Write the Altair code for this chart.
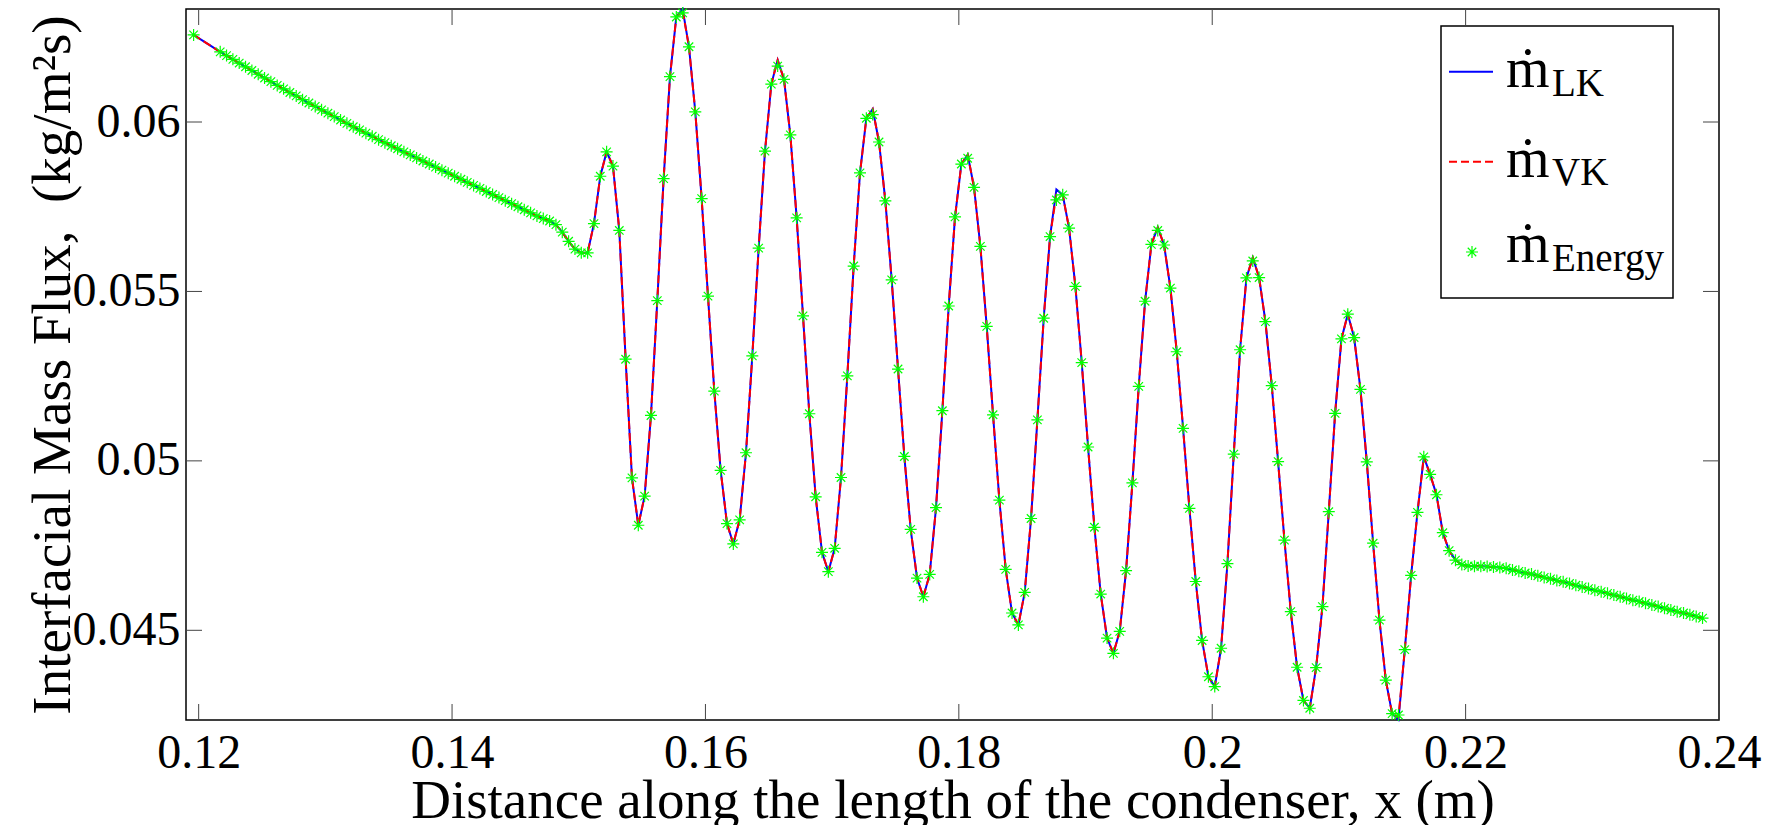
import altair as alt
import pandas as pd

FONT = "Liberation Serif"

# x positions along the condenser (m)
X_M = [0.1196,
    0.1217, 0.1222, 0.1227, 0.1232, 0.1237, 0.1242, 0.1247, 0.1252, 0.1257, 0.1262,
    0.1267, 0.1272, 0.1277, 0.1282, 0.1287, 0.1292, 0.1297, 0.1302, 0.1307, 0.1312,
    0.1317, 0.1322, 0.1327, 0.1332, 0.1337, 0.1342, 0.1347, 0.1352, 0.1357, 0.1362,
    0.1367, 0.1372, 0.1377, 0.1382, 0.1387, 0.1392, 0.1397, 0.1402, 0.1407, 0.1412,
    0.1417, 0.1422, 0.1427, 0.1432, 0.1437, 0.1442, 0.1447, 0.1452, 0.1457, 0.1462,
    0.1467, 0.1472, 0.1477, 0.1482, 0.1487, 0.1492, 0.1497, 0.1502, 0.1507, 0.1512,
    0.1517, 0.1522, 0.1527, 0.1532, 0.1537, 0.1542, 0.1547, 0.1552, 0.1557, 0.1562,
    0.1567, 0.1572, 0.1577, 0.1582, 0.1587, 0.1592, 0.1597, 0.1602, 0.1607, 0.1612,
    0.1617, 0.1622, 0.1627, 0.1632, 0.1637, 0.1642, 0.1647, 0.1652, 0.1657, 0.1662,
    0.1667, 0.1672, 0.1677, 0.1682, 0.1687, 0.1692, 0.1697, 0.1702, 0.1707, 0.1712,
    0.1717, 0.1722, 0.1727, 0.1732, 0.1737, 0.1742, 0.1747, 0.1752, 0.1757, 0.1762,
    0.1767, 0.1772, 0.1777, 0.1782, 0.1787, 0.1792, 0.1797, 0.1802, 0.1807, 0.1812,
    0.1817, 0.1822, 0.1827, 0.1832, 0.1837, 0.1842, 0.1847, 0.1852, 0.1857, 0.1862,
    0.1867, 0.1872, 0.1877, 0.1882, 0.1887, 0.1892, 0.1897, 0.1902, 0.1907, 0.1912,
    0.1917, 0.1922, 0.1927, 0.1932, 0.1937, 0.1942, 0.1947, 0.1952, 0.1957, 0.1962,
    0.1967, 0.1972, 0.1977, 0.1982, 0.1987, 0.1992, 0.1997, 0.2002, 0.2007, 0.2012,
    0.2017, 0.2022, 0.2027, 0.2032, 0.2037, 0.2042, 0.2047, 0.2052, 0.2057, 0.2062,
    0.2067, 0.2072, 0.2077, 0.2082, 0.2087, 0.2092, 0.2097, 0.2102, 0.2107, 0.2112,
    0.2117, 0.2122, 0.2127, 0.2132, 0.2137, 0.2142, 0.2147, 0.2152, 0.2157, 0.2162,
    0.2167, 0.2172, 0.2177, 0.2182, 0.2187, 0.2192, 0.2197, 0.2202, 0.2207, 0.2212,
    0.2217, 0.2222, 0.2227, 0.2232, 0.2237, 0.2242, 0.2247, 0.2252, 0.2257, 0.2262,
    0.2267, 0.2272, 0.2277, 0.2282, 0.2287, 0.2292, 0.2297, 0.2302, 0.2307, 0.2312,
    0.2317, 0.2322, 0.2327, 0.2332, 0.2337, 0.2342, 0.2347, 0.2352, 0.2357, 0.2362,
    0.2367, 0.2372, 0.2377, 0.2382, 0.2387]

# interfacial mass flux, LK method (kg/m^2 s)
M_LK = [0.06257,
    0.06207, 0.06196, 0.06185, 0.06174, 0.06163, 0.06152, 0.06141, 0.06130, 0.06119, 0.06108,
    0.06098, 0.06087, 0.06077, 0.06066, 0.06056, 0.06046, 0.06036, 0.06026, 0.06016, 0.06006,
    0.05996, 0.05986, 0.05977, 0.05967, 0.05958, 0.05948, 0.05939, 0.05930, 0.05921, 0.05912,
    0.05903, 0.05894, 0.05885, 0.05876, 0.05867, 0.05858, 0.05849, 0.05840, 0.05831, 0.05822,
    0.05813, 0.05804, 0.05795, 0.05786, 0.05777, 0.05768, 0.05759, 0.05750, 0.05741, 0.05732,
    0.05723, 0.05715, 0.05708, 0.05697, 0.05675, 0.05648, 0.05625, 0.05614, 0.05614, 0.05700,
    0.05840, 0.05912, 0.05870, 0.05680, 0.05300, 0.04950, 0.04810, 0.04896, 0.05134, 0.05473,
    0.05833, 0.06134, 0.06310, 0.06333, 0.06222, 0.06030, 0.05774, 0.05486, 0.05206, 0.04972,
    0.04815, 0.04755, 0.04826, 0.05024, 0.05310, 0.05628, 0.05914, 0.06112, 0.06183, 0.06126,
    0.05962, 0.05717, 0.05428, 0.05139, 0.04894, 0.04730, 0.04673, 0.04742, 0.04951, 0.05251,
    0.05575, 0.05850, 0.06011, 0.06038, 0.05941, 0.05767, 0.05534, 0.05271, 0.05013, 0.04798,
    0.04654, 0.04599, 0.04665, 0.04862, 0.05148, 0.05457, 0.05720, 0.05876, 0.05903, 0.05807,
    0.05633, 0.05397, 0.05136, 0.04884, 0.04680, 0.04551, 0.04516, 0.04612, 0.04830, 0.05121,
    0.05421, 0.05662, 0.05801, 0.05785, 0.05687, 0.05515, 0.05290, 0.05041, 0.04804, 0.04607,
    0.04477, 0.04432, 0.04497, 0.04676, 0.04935, 0.05220, 0.05471, 0.05639, 0.05689, 0.05637,
    0.05510, 0.05322, 0.05096, 0.04860, 0.04644, 0.04470, 0.04363, 0.04334, 0.04447, 0.04697,
    0.05020, 0.05328, 0.05540, 0.05600, 0.05541, 0.05411, 0.05222, 0.04998, 0.04766, 0.04555,
    0.04391, 0.04293, 0.04270, 0.04390, 0.04570, 0.04850, 0.05140, 0.05360, 0.05433, 0.05364,
    0.05211, 0.04997, 0.04757, 0.04530, 0.04353, 0.04254, 0.04236, 0.04443, 0.04662, 0.04848,
    0.05012, 0.04960, 0.04900, 0.04788, 0.04735, 0.04707, 0.04694, 0.04690, 0.04689, 0.04689,
    0.04688, 0.04687, 0.04685, 0.04683, 0.04678, 0.04674, 0.04669, 0.04666, 0.04661, 0.04656,
    0.04652, 0.04647, 0.04643, 0.04638, 0.04633, 0.04628, 0.04623, 0.04618, 0.04614, 0.04609,
    0.04604, 0.04599, 0.04594, 0.04589, 0.04585, 0.04580, 0.04575, 0.04570, 0.04565, 0.04560,
    0.04555, 0.04551, 0.04546, 0.04541, 0.04536]

# where the VK and energy-balance values differ visibly from the LK curve
VK_DIFF = {0.1582: 0.06328, 0.1877: 0.05786, 0.2147: 0.04244}
EN_DIFF = {0.1582: 0.06322, 0.1657: 0.06165, 0.1732: 0.06022, 0.1807: 0.05893,
           0.1877: 0.05770, 0.1957: 0.05680, 0.2032: 0.05590, 0.2147: 0.04250}

X_TICKS = [0.12, 0.14, 0.16, 0.18, 0.2, 0.22, 0.24]
Y_TICKS = [0.045, 0.05, 0.055, 0.06]
LEGEND_SUB = ["LK", "VK", "Energy"]

M_VK = [VK_DIFF.get(x, y) for x, y in zip(X_M, M_LK)]
M_EN = [EN_DIFF.get(x, y) for x, y in zip(X_M, M_LK)]

W, H = 1533, 711
xs = alt.Scale(domain=[0.119, 0.24], nice=False, zero=False)
ys = alt.Scale(domain=[0.042353, 0.063335], nice=False, zero=False)

ASTER = ("M-1,0L1,0M0,-1L0,1M-0.7071,-0.7071L0.7071,0.7071"
         "M-0.7071,0.7071L0.7071,-0.7071")

x_axis = alt.Axis(values=X_TICKS, format="~g", labelFont=FONT, labelFontSize=48,
                  labelColor="black", labelPadding=9, labelFlush=False,
                  labelOverlap=False, ticks=False, tickSize=0, domain=False, grid=False,
                  title="Distance along the length of the condenser, x (m)",
                  titleFont=FONT, titleFontSize=55, titleFontWeight="normal",
                  titleColor="black", titleBaseline="alphabetic", titleY=97,
                  titleX=W / 2, titleAlign="center")
y_axis = alt.Axis(values=Y_TICKS, format="~g", labelFont=FONT, labelFontSize=48,
                  labelColor="black", labelPadding=6, labelFlush=False,
                  labelOverlap=False, ticks=False, tickSize=0, domain=False, grid=False,
                  title="Interfacial Mass Flux,\u00a0 (kg/m\u00b2s)",
                  titleFont=FONT, titleFontSize=55, titleFontWeight="normal",
                  titleColor="black", titleAngle=270, titleBaseline="alphabetic",
                  titleX=-117, titleY=H / 2, titleAlign="center")


def X(field="x"):
    return alt.X(f"{field}:Q", scale=xs, axis=x_axis)


def Y(field="y"):
    return alt.Y(f"{field}:Q", scale=ys, axis=y_axis)


df_lk = pd.DataFrame({"x": X_M, "y": M_LK})
df_vk = pd.DataFrame({"x": X_M, "y": M_VK})
df_en = pd.DataFrame({"x": X_M, "y": M_EN})

lk = alt.Chart(df_lk).mark_line(color="#0000FF", strokeWidth=2).encode(x=X(), y=Y())
vk = alt.Chart(df_vk).mark_line(color="#FF0000", strokeWidth=2,
                                strokeDash=[8, 4]).encode(x=X(), y=Y())
en = alt.Chart(df_en).mark_point(shape=ASTER, size=144, filled=False, stroke="#00FF00",
                                 strokeWidth=1.2, opacity=1).encode(x=X(), y=Y())

tick_style = dict(color="#444444", strokeWidth=1)
xt_df = pd.DataFrame({"x": X_TICKS})
yt_df = pd.DataFrame({"y": Y_TICKS})
xt_bot = alt.Chart(xt_df).mark_rule(**tick_style).encode(
    x=X(), y=alt.value(H), y2=alt.value(H - 16))
xt_top = alt.Chart(xt_df).mark_rule(**tick_style).encode(
    x=X(), y=alt.value(0), y2=alt.value(16))
yt_left = alt.Chart(yt_df).mark_rule(**tick_style).encode(
    y=Y(), x=alt.value(0), x2=alt.value(16))
yt_right = alt.Chart(yt_df).mark_rule(**tick_style).encode(
    y=Y(), x=alt.value(W), x2=alt.value(W - 16))

one = pd.DataFrame({"k": [0]})
box = alt.Chart(one).mark_rect(fill="white", stroke="black", strokeWidth=1.5).encode(
    x=alt.value(1255), x2=alt.value(1487), y=alt.value(17), y2=alt.value(289))
leg_lk = alt.Chart(one).mark_rule(color="#0000FF", strokeWidth=2).encode(
    x=alt.value(1263), x2=alt.value(1307), y=alt.value(62.7))
leg_vk = alt.Chart(one).mark_rule(color="#FF0000", strokeWidth=2, strokeDash=[8, 4]).encode(
    x=alt.value(1263), x2=alt.value(1307), y=alt.value(152.7))
leg_en = alt.Chart(one).mark_point(shape=ASTER, size=144, filled=False, stroke="#00FF00",
                                   strokeWidth=1.2, opacity=1).encode(
    x=alt.value(1286), y=alt.value(243))

leg_texts = []
for i, (mb, sb) in enumerate([(78.3, 86.7), (167.7, 176.0), (252.7, 261.7)]):
    leg_texts.append(alt.Chart(one).mark_text(
        text="\u1e41", font=FONT, fontSize=56, align="left", baseline="alphabetic",
        color="black").encode(x=alt.value(1320), y=alt.value(mb)))
    leg_texts.append(alt.Chart(one).mark_text(
        text=LEGEND_SUB[i], font=FONT, fontSize=39, align="left", baseline="alphabetic",
        color="black").encode(x=alt.value(1366), y=alt.value(sb)))

chart = alt.layer(
    lk, vk, en, xt_bot, xt_top, yt_left, yt_right,
    box, leg_lk, leg_vk, leg_en, *leg_texts
).properties(
    width=W, height=H,
    autosize=alt.AutoSizeParams(type="none"),
    padding={"left": 186, "top": 9, "right": 60, "bottom": 105},
    background="white",
).configure_view(stroke="black", strokeWidth=1.5)

chart.save("out.html", embed_options={"renderer": "svg", "actions": False})
